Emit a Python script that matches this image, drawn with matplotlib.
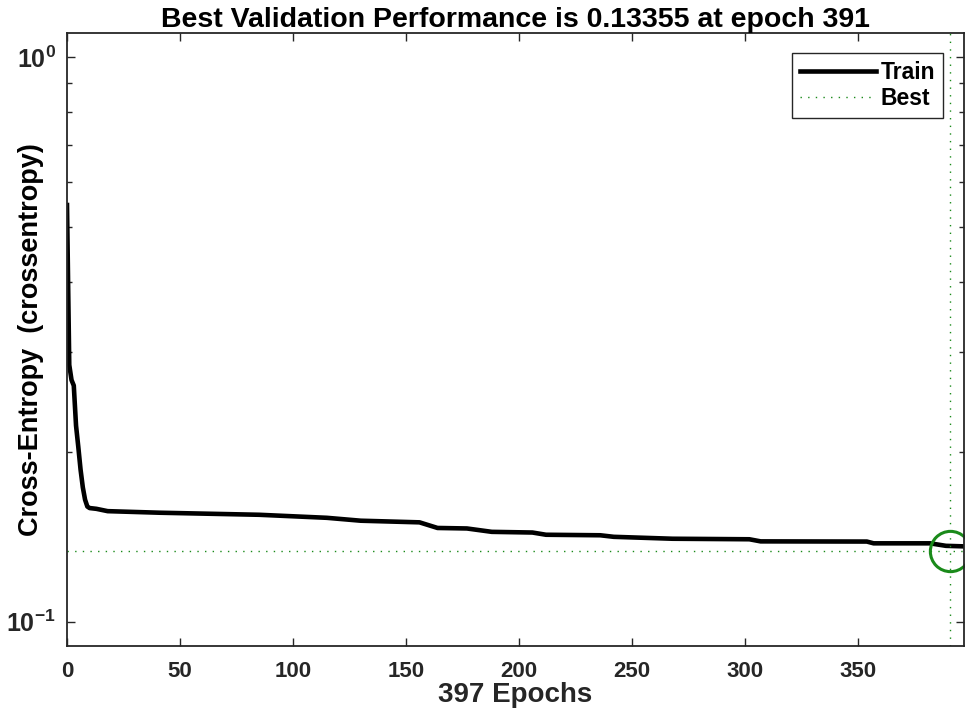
import matplotlib
matplotlib.use("Agg")
import matplotlib.pyplot as plt
from matplotlib.ticker import FixedLocator, LogLocator, NullFormatter

plt.rcParams['font.family'] = ['Liberation Sans', 'DejaVu Sans']
plt.rcParams['mathtext.fontset'] = 'custom'
plt.rcParams['mathtext.bf'] = 'Liberation Sans:bold'
plt.rcParams['mathtext.rm'] = 'Liberation Sans:bold'

# Training curve
epochs = [0, 1, 2, 3, 4, 5, 6, 7, 8, 9, 10, 13, 18, 41, 85, 115, 130, 156, 164,
          177, 188, 206, 212, 236, 242, 268, 302, 307, 354, 357, 382, 389, 397]
train = [0.547, 0.285, 0.268, 0.262, 0.2225, 0.204, 0.186, 0.173, 0.1645, 0.160,
         0.159, 0.1585, 0.157, 0.156, 0.1547, 0.1528, 0.151, 0.150, 0.1466,
         0.1463, 0.1443, 0.1439, 0.1426, 0.1423, 0.1414, 0.1403, 0.1400, 0.1388,
         0.1387, 0.1377, 0.1377, 0.1363, 0.136]

best_epoch = 391
best_perf = 0.13355
n_epochs = 397
xticks = [0, 50, 100, 150, 200, 250, 300, 350]

axcol = '#262626'
green = '#1a8a1a'

fig = plt.figure(figsize=(9.65, 7.11), dpi=100)
ax = fig.add_axes([67/965, 65/711, 897/965, 613/711])

ax.plot(epochs, train, color='black', lw=3.3, label='Train', solid_joinstyle='round')
ax.axhline(best_perf, color=green, lw=1.0, ls=(0, (1, 4.5)), label='Best')
ax.axvline(best_epoch, color=green, lw=1.0, ls=(0, (1, 4.5)))
ax.plot([best_epoch], [best_perf], 'o', ms=29, mfc='none', mec=green, mew=2.2,
        clip_on=False)

ax.set_yscale('log')
ax.set_xlim(0, n_epochs)
ax.set_ylim(0.0906, 1.103)
ax.xaxis.set_major_locator(FixedLocator(xticks))
ax.set_xticklabels([str(t) for t in xticks])
ax.yaxis.set_major_locator(FixedLocator([0.1, 1.0]))
ax.set_yticklabels([r'$\mathbf{10^{-1}}$', r'$\mathbf{10^{0}}$'])
ax.yaxis.set_minor_locator(LogLocator(base=10, subs=range(2, 10)))
ax.yaxis.set_minor_formatter(NullFormatter())

ax.tick_params(which='both', direction='in', top=True, right=True,
               colors=axcol, width=1.0)
ax.tick_params(which='major', length=5.5)
ax.tick_params(axis='x', which='major', labelsize=16, pad=11)
ax.tick_params(axis='y', which='major', labelsize=18, pad=8)
ax.tick_params(which='minor', length=3.5)
for lab in ax.get_xticklabels() + ax.get_yticklabels():
    lab.set_fontweight('bold')
for s in ax.spines.values():
    s.set_color(axcol)
    s.set_linewidth(1.3)

ax.set_title('Best Validation Performance is 0.13355 at epoch 391',
             fontsize=20.5, fontweight='bold', pad=1)
ax.set_xlabel('397 Epochs', fontsize=20, fontweight='bold', color=axcol, labelpad=0)
ax.set_ylabel('Cross-Entropy  (crossentropy)', fontsize=19.5, fontweight='bold')
ax.yaxis.set_label_coords(-0.0256, 0.5)

leg = ax.legend(loc='upper right', bbox_to_anchor=(943/965, 1 - 53/711),
                bbox_transform=fig.transFigure, borderaxespad=0, fancybox=False,
                framealpha=1, edgecolor=axcol, handlelength=3.35,
                handletextpad=0.2, labelspacing=0.17, borderpad=0.33,
                prop={'size': 16.5, 'weight': 'bold'})
leg.get_frame().set_linewidth(1.0)

fig.savefig('out.png', dpi=100)
